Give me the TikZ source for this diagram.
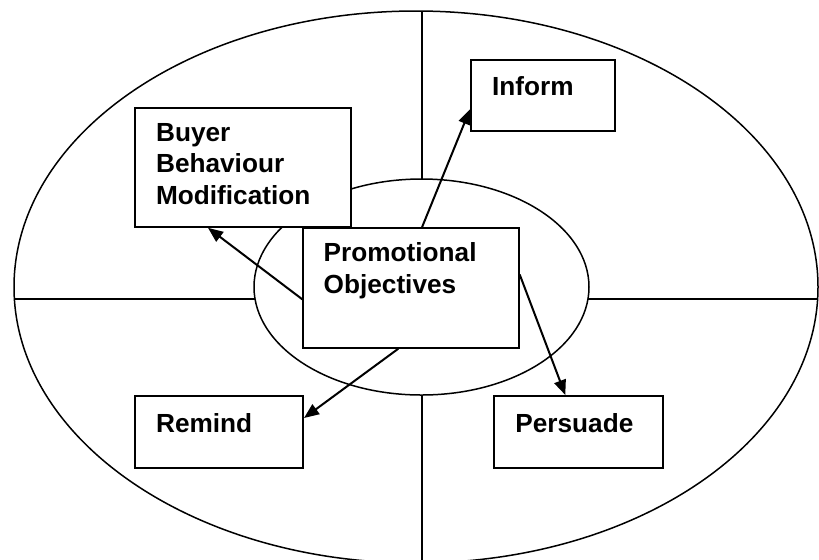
\documentclass[tikz,border=0pt]{standalone}
\usepackage{fontspec}
\setmainfont{Liberation Sans}
\usetikzlibrary{calc,arrows.meta}
\begin{document}
\begin{tikzpicture}[x=0.5pt,y=-0.5pt,
  box/.style={draw,fill=white,line width=1pt,rectangle,inner sep=0pt,anchor=north west},
  txt/.style={inner sep=0pt,align=left,font=\fontsize{13.1}{15.8}\selectfont\bfseries},
  conn/.style={line width=1pt,-{Triangle[length=7.5pt,width=6pt]}},
  ring/.style={line width=0.75pt},
  cross/.style={line width=0.8pt}]
\useasboundingbox (0,0) rectangle (819,559);
% outer ellipse
\draw[ring] (416,287) ellipse [x radius=201pt, y radius=138pt];
% cross lines
\draw[cross] (14.4,299) -- (817.6,299);
\draw[cross] (421.7,11) -- (421.7,570);
% inner ellipse
\draw[ring,fill=white] (421.5,287) ellipse [x radius=83.75pt, y radius=54pt];
% boxes
\node[box,minimum width=108pt,minimum height=59.4pt] (buyer) at (134,107) {};
\node[box,minimum width=72pt,minimum height=35.5pt] (inform) at (470,59.3) {};
\node[box,minimum width=107.7pt,minimum height=59.7pt] (center) at (302.3,227.3) {};
\node[box,minimum width=84pt,minimum height=36pt] (remind) at (134,395) {};
\node[box,minimum width=84.5pt,minimum height=36.2pt] (persuade) at (493.3,395) {};
% texts
\node[txt,anchor=base west] (buyert) at (155.7,141.7) {Buyer};
\node[txt,anchor=base west] (buyert2) at (155.7,172.9) {Behaviour};
\node[txt,anchor=base west] (buyert3) at (155.7,204.3) {Modification};
\node[txt,anchor=base west] (informt) at (491.7,95.7) {Inform};
\node[txt,anchor=base west] (centert) at (323.3,261) {Promotional};
\node[txt,anchor=base west] (centert2) at (323.3,293.5) {Objectives};
\node[txt,anchor=base west] (remindt) at (155.7,432) {Remind};
\node[txt,anchor=base west] (persuadet) at (515,432) {Persuade};
% connectors
\draw[conn] ($(center.north west)+(119.7,0)$) -- ($(inform.north west)+(0,50)$);
\draw[conn] ($(center.north west)+(0,72)$) -- ($(buyer.south west)+(74,0)$);
\draw[conn] ($(center.south west)+(96,0)$) -- ($(remind.north east)+(0,23)$);
\draw[conn] ($(center.north east)+(0,47.2)$) -- ($(persuade.north west)+(72,0)$);
\end{tikzpicture}
\end{document}
